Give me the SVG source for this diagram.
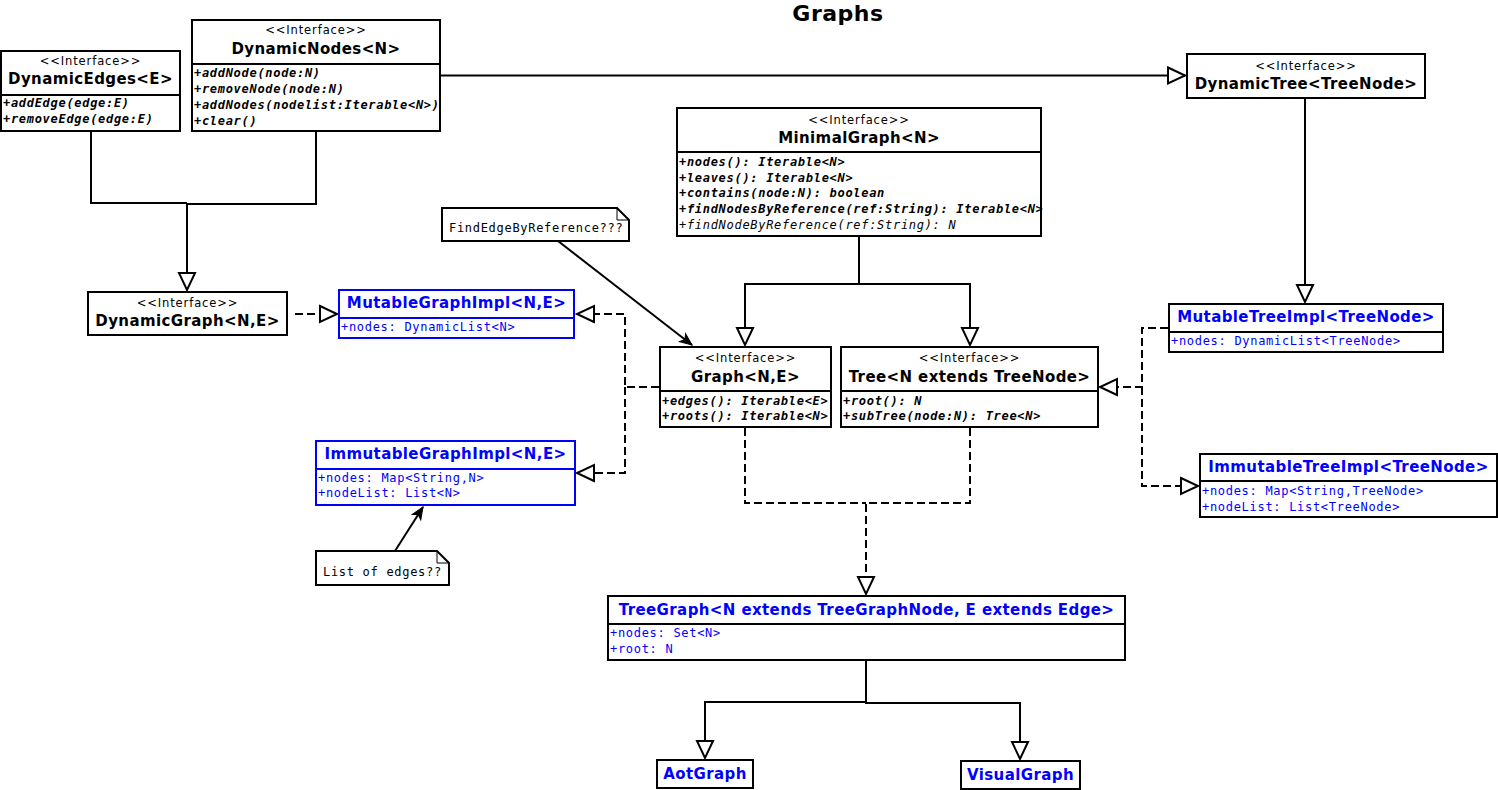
<svg xmlns="http://www.w3.org/2000/svg" width="1498" height="790" viewBox="0 0 1498 790">
<style>
.bx{fill:#fff;stroke:#000;stroke-width:2}
.bb{fill:#fff;stroke:#0000ff;stroke-width:2}
.dv{stroke:#000;stroke-width:2}
.dvb{stroke:#0000ff;stroke-width:2}
.st{font-family:"DejaVu Sans",sans-serif;font-size:11.5px;letter-spacing:0.9px;text-anchor:middle;fill:#000}
.nm{font-family:"DejaVu Sans",sans-serif;font-size:15px;font-weight:bold;letter-spacing:0.4px;text-anchor:middle;fill:#000}
.nb{fill:#0000ff}
.mb{font-family:"DejaVu Sans Mono",monospace;font-size:12px;letter-spacing:0.7px;font-weight:bold;font-style:italic;fill:#000}
.mi{font-family:"DejaVu Sans Mono",monospace;font-size:12px;letter-spacing:0.7px;font-style:italic;fill:#000}
.at{font-family:"DejaVu Sans Mono",monospace;font-size:12px;letter-spacing:0.7px;fill:#0000ff}
.nt{font-family:"DejaVu Sans Mono",monospace;font-size:12px;letter-spacing:0.7px;fill:#000}
.ln{fill:none;stroke:#000;stroke-width:2}
.ds{fill:none;stroke:#000;stroke-width:2;stroke-dasharray:8 4}
.tt{font-family:"DejaVu Sans",sans-serif;font-size:22px;font-weight:bold;letter-spacing:0.5px;text-anchor:middle;fill:#000}
</style>
<defs>
<marker id="tri" markerUnits="userSpaceOnUse" markerWidth="20" markerHeight="20" refX="17" refY="8" orient="auto" overflow="visible">
<path d="M0,0 L17,8 L0,16 Z" fill="#fff" stroke="#000" stroke-width="2" stroke-dasharray="none"/>
</marker>
<marker id="arr" markerUnits="userSpaceOnUse" markerWidth="14" markerHeight="12" refX="12" refY="5" orient="auto" overflow="visible">
<path d="M0,0 L12,5 L0,10 L3,5 Z" fill="#000" stroke="#000" stroke-width="1"/>
</marker>
</defs>
<rect width="1498" height="790" fill="#fff"/>
<text class="tt" x="838" y="21">Graphs</text>

<g id="connectors">
<path class="ln" d="M91 131 V203 H187"/>
<path class="ln" d="M316 131 V204 H187 V290" marker-end="url(#tri)"/>
<path class="ln" d="M440 75.5 H1185" marker-end="url(#tri)"/>
<path class="ln" d="M1305 98 V302" marker-end="url(#tri)"/>
<path class="ln" d="M859 236 V284 H745 V345" marker-end="url(#tri)"/>
<path class="ln" d="M859 284 H970 V345" marker-end="url(#tri)"/>
<path class="ds" d="M295 314 H337" marker-end="url(#tri)"/>
<path class="ds" d="M659 387 H625 V314 H577" marker-end="url(#tri)"/>
<path class="ds" d="M625 387 V473 H577" marker-end="url(#tri)"/>
<path class="ds" d="M1168 328 H1142 V387 H1100" marker-end="url(#tri)"/>
<path class="ds" d="M1142 387 V486 H1198" marker-end="url(#tri)"/>
<path class="ds" d="M745 428 V503 H866"/>
<path class="ds" d="M970 428 V503 H866 V594" marker-end="url(#tri)"/>
<path class="ln" d="M866 660 V702 H705 V758" marker-end="url(#tri)"/>
<path class="ln" d="M866 660 V703 H1020 V759" marker-end="url(#tri)"/>
<path class="ln" d="M558 241 L692 345" marker-end="url(#arr)"/>
<path class="ln" d="M395 551 L423 507" marker-end="url(#arr)"/>
</g>

<g id="DynamicEdges">
<rect class="bx" x="1" y="51" width="179" height="80"/>
<line class="dv" x1="1" y1="95" x2="180" y2="95"/>
<text class="st" x="90.5" y="65">&lt;&lt;Interface&gt;&gt;</text>
<text class="nm" x="90.5" y="84">DynamicEdges&lt;E&gt;</text>
<text class="mb" x="3" y="107">+addEdge(edge:E)</text>
<text class="mb" x="3" y="123">+removeEdge(edge:E)</text>
</g>

<g id="DynamicNodes">
<rect class="bx" x="192" y="20" width="248" height="111"/>
<line class="dv" x1="192" y1="64" x2="440" y2="64"/>
<text class="st" x="316" y="34">&lt;&lt;Interface&gt;&gt;</text>
<text class="nm" x="316" y="54">DynamicNodes&lt;N&gt;</text>
<text class="mb" x="194" y="77">+addNode(node:N)</text>
<text class="mb" x="194" y="93">+removeNode(node:N)</text>
<text class="mb" x="194" y="109">+addNodes(nodelist:Iterable&lt;N&gt;)</text>
<text class="mb" x="194" y="125">+clear()</text>
</g>

<g id="DynamicTree">
<rect class="bx" x="1187" y="54" width="238" height="44"/>
<text class="st" x="1306" y="70">&lt;&lt;Interface&gt;&gt;</text>
<text class="nm" x="1306" y="89">DynamicTree&lt;TreeNode&gt;</text>
</g>

<g id="MinimalGraph">
<rect class="bx" x="677" y="108" width="364" height="128"/>
<line class="dv" x1="677" y1="152" x2="1041" y2="152"/>
<text class="st" x="859" y="124">&lt;&lt;Interface&gt;&gt;</text>
<text class="nm" x="859" y="143">MinimalGraph&lt;N&gt;</text>
<text class="mb" x="679" y="166">+nodes(): Iterable&lt;N&gt;</text>
<text class="mb" x="679" y="182">+leaves(): Iterable&lt;N&gt;</text>
<text class="mb" x="679" y="197">+contains(node:N): boolean</text>
<text class="mb" x="679" y="213">+findNodesByReference(ref:String): Iterable&lt;N&gt;</text>
<text class="mi" x="679" y="229">+findNodeByReference(ref:String): N</text>
</g>

<g id="NoteFindEdge">
<path class="bx" d="M442 208 H617 L629 220 V241 H442 Z"/>
<path d="M617 208 V220 H629" fill="none" stroke="#000" stroke-width="1"/>
<text class="nt" x="449" y="232">FindEdgeByReference???</text>
</g>

<g id="DynamicGraph">
<rect class="bx" x="88" y="292" width="199" height="43"/>
<text class="st" x="187.5" y="307">&lt;&lt;Interface&gt;&gt;</text>
<text class="nm" x="187.5" y="326">DynamicGraph&lt;N,E&gt;</text>
</g>

<g id="MutableGraphImpl">
<rect class="bb" x="339" y="290" width="235" height="48"/>
<line class="dvb" x1="339" y1="318" x2="574" y2="318"/>
<text class="nm nb" x="456.5" y="308">MutableGraphImpl&lt;N,E&gt;</text>
<text class="at" x="341" y="331">+nodes: DynamicList&lt;N&gt;</text>
</g>

<g id="Graph">
<rect class="bx" x="660" y="347" width="171" height="80"/>
<line class="dv" x1="660" y1="391" x2="831" y2="391"/>
<text class="st" x="745.5" y="362">&lt;&lt;Interface&gt;&gt;</text>
<text class="nm" x="745.5" y="382">Graph&lt;N,E&gt;</text>
<text class="mb" x="662" y="405">+edges(): Iterable&lt;E&gt;</text>
<text class="mb" x="662" y="420">+roots(): Iterable&lt;N&gt;</text>
</g>

<g id="Tree">
<rect class="bx" x="841" y="347" width="257" height="80"/>
<line class="dv" x1="841" y1="391" x2="1098" y2="391"/>
<text class="st" x="969.5" y="362">&lt;&lt;Interface&gt;&gt;</text>
<text class="nm" x="969.5" y="382">Tree&lt;N extends TreeNode&gt;</text>
<text class="mb" x="843" y="405">+root(): N</text>
<text class="mb" x="843" y="420">+subTree(node:N): Tree&lt;N&gt;</text>
</g>

<g id="MutableTreeImpl">
<rect class="bx" x="1169" y="304" width="274" height="48"/>
<line class="dv" x1="1169" y1="332" x2="1443" y2="332"/>
<text class="nm nb" x="1306" y="322">MutableTreeImpl&lt;TreeNode&gt;</text>
<text class="at" x="1171" y="345">+nodes: DynamicList&lt;TreeNode&gt;</text>
</g>

<g id="ImmutableTreeImpl">
<rect class="bx" x="1200" y="454" width="297" height="63"/>
<line class="dv" x1="1200" y1="481" x2="1497" y2="481"/>
<text class="nm nb" x="1348.5" y="472">ImmutableTreeImpl&lt;TreeNode&gt;</text>
<text class="at" x="1202" y="495">+nodes: Map&lt;String,TreeNode&gt;</text>
<text class="at" x="1202" y="511">+nodeList: List&lt;TreeNode&gt;</text>
</g>

<g id="ImmutableGraphImpl">
<rect class="bb" x="316" y="441" width="259" height="64"/>
<line class="dvb" x1="316" y1="469" x2="575" y2="469"/>
<text class="nm nb" x="445.5" y="459">ImmutableGraphImpl&lt;N,E&gt;</text>
<text class="at" x="318" y="482">+nodes: Map&lt;String,N&gt;</text>
<text class="at" x="318" y="497">+nodeList: List&lt;N&gt;</text>
</g>

<g id="NoteListOfEdges">
<path class="bx" d="M316 551 H437 L449 563 V585 H316 Z"/>
<path d="M437 551 V563 H449" fill="none" stroke="#000" stroke-width="1"/>
<text class="nt" x="323" y="576">List of edges??</text>
</g>

<g id="TreeGraph">
<rect class="bx" x="608" y="596" width="517" height="64"/>
<line class="dv" x1="608" y1="624" x2="1125" y2="624"/>
<text class="nm nb" x="866.5" y="615">TreeGraph&lt;N extends TreeGraphNode, E extends Edge&gt;</text>
<text class="at" x="610" y="637">+nodes: Set&lt;N&gt;</text>
<text class="at" x="610" y="653">+root: N</text>
</g>

<g id="AotGraph">
<rect class="bx" x="657" y="760" width="96" height="28"/>
<text class="nm nb" x="705" y="779">AotGraph</text>
</g>

<g id="VisualGraph">
<rect class="bx" x="961" y="761" width="119" height="28"/>
<text class="nm nb" x="1020.5" y="780">VisualGraph</text>
</g>
</svg>
